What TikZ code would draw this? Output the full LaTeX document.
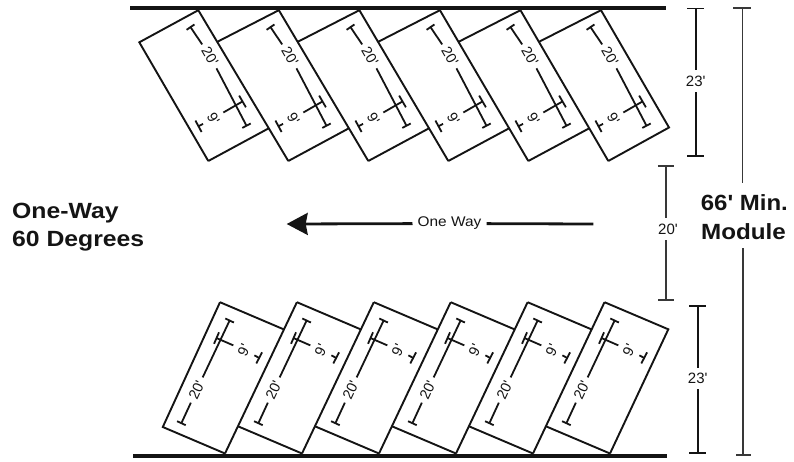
\documentclass[tikz,border=0pt]{standalone}
\usepackage{fontspec}
\setmainfont{Liberation Sans}[Ligatures=TeXOff]
\usetikzlibrary{arrows.meta,calc}
\definecolor{ink}{gray}{0.08}
\definecolor{inkb}{gray}{0.22}
\tikzset{
  stall/.style={draw=ink,line width=1.9pt,line join=miter},
  kerb/.style={draw=ink,line width=4pt},
  dimcap/.style={draw=ink,line width=1.8pt,arrows={Bar[width=#1,line width=1.8pt]-}},
  dimlab/.style={text=ink,font=\fontsize{14.5}{15}\selectfont,inner ysep=0pt,inner xsep=4.5pt,outer sep=0pt},
  shortlab/.style={text=ink,font=\fontsize{14.5}{15}\selectfont,inner ysep=6.5pt,inner xsep=1pt,outer sep=0pt},
  vlab/.style={text=ink,font=\fontsize{15}{16}\selectfont,inner ysep=5.5pt,inner xsep=1pt,outer sep=0pt},
  heading/.style={text=ink,font=\bfseries\fontsize{22}{24}\selectfont,anchor=base west,inner sep=0pt},
}
\begin{document}
\begin{tikzpicture}[x=1pt,y=-1pt]
\useasboundingbox (0,0) rectangle (794,461);
% kerbs
\coordinate (kt1) at (130,7.8); \coordinate (kt2) at (666,7.8);
\coordinate (kb1) at (133,455.5); \coordinate (kb2) at (667,455.5);
\draw[kerb] (kt1) -- (kt2);
\draw[kerb] (kb1) -- (kb2);
% corners
\foreach \i in {0,...,5} {
  \coordinate (T\i) at ({198.3+80.54*\i},10.2);
  \coordinate (B\i) at ({208.3+80*\i},161);
  \coordinate (D\i) at ({198.3+80*\i},10.7);
  \coordinate (P\i) at ({220+76.9*\i},302.2);
  \coordinate (S\i) at ({225+77*\i},453.5);
  \coordinate (E\i) at ({220+77*\i},302.3);
}
\coordinate (L0) at (139.3,42.3);
\coordinate (R5) at (669,127.5);
\coordinate (Q0) at (162.8,427);
\coordinate (U5) at (668.3,329.3);
\draw[stall] (T0) -- (L0) -- (B0);
\draw[stall] (T5) -- (R5) -- (B5);
\foreach \i/\n in {0/1,1/2,2/3,3/4,4/5} {
  \draw[stall] (T\i) -- (B\n);
  \draw[stall] (B\i) -- ($(T\i)!.783!(B\n)$);
  \draw[stall] ($(T\i)!.21!(B\n)$) -- (T\n);
}
\draw[stall] (P0) -- (Q0) -- (S0);
\draw[stall] (P5) -- (U5) -- (S5);
\foreach \i/\n in {0/1,1/2,2/3,3/4,4/5} {
  \draw[stall] (S\i) -- (P\n);
  \draw[stall] (P\i) -- ($(S\i)!.82!(P\n)$);
  \draw[stall] ($(S\i)!.18!(P\n)$) -- (S\n);
}
% stall dimensions, top
\foreach \i in {0,...,5} {
  \begin{scope}[shift={(D\i)}]
    \coordinate (ta\i) at (-8.3,15.7);
    \coordinate (tb\i) at (48.6,115.8);
    \coordinate (tc\i) at (45,90.3);
    \coordinate (td\i) at (-0.6,116);
    \node[dimlab,rotate=-60] (tl\i) at (11.7,45.3) {20'};
    \node[shortlab,rotate=-60] (ts\i) at (15,107.6) {9'};
    \draw[dimcap=9.5pt] (ta\i) -- (tl\i);
    \draw[dimcap=9.5pt] (tb\i) -- (tl\i);
    \draw[dimcap=13.5pt] (tc\i) -- (ts\i);
    \draw[dimcap=13pt] (td\i) -- (ts\i);
  \end{scope}
}
% stall dimensions, bottom
\foreach \i in {0,...,5} {
  \begin{scope}[shift={(E\i)}]
    \coordinate (ba\i) at (10,17.4);
    \coordinate (bb\i) at (-39,121.7);
    \coordinate (bc\i) at (-4.3,35.4);
    \coordinate (bd\i) at (40,56);
    \node[dimlab,rotate=65] (bl\i) at (-23.3,87.7) {20'};
    \node[shortlab,rotate=65] (bs\i) at (24,47.7) {9'};
    \draw[dimcap=9.5pt] (ba\i) -- (bl\i);
    \draw[dimcap=9.5pt] (bb\i) -- (bl\i);
    \draw[dimcap=12.5pt] (bc\i) -- (bs\i);
    \draw[dimcap=12.5pt] (bd\i) -- (bs\i);
  \end{scope}
}
% right-hand dimensions
\coordinate (r1a) at (695.7,7.5); \coordinate (r1b) at (695.7,156.7);
\node[vlab] (r1) at (695.7,81) {23'};
\draw[dimcap=16.5pt] (r1a) -- (r1);
\draw[dimcap=16.5pt] (r1b) -- (r1);
\coordinate (r2a) at (665.8,165); \coordinate (r2b) at (665.8,301);
\node[vlab] (r2) at (668,229) {20'};
\draw[dimcap=16pt,draw=inkb] (r2a) -- (r2a |- r2.north);
\draw[dimcap=16pt,draw=inkb] (r2b) -- (r2b |- r2.south);
\coordinate (r3a) at (697.7,305); \coordinate (r3b) at (697.7,454);
\node[vlab] (r3) at (697.7,378.5) {23'};
\draw[dimcap=16.5pt] (r3a) -- (r3);
\draw[dimcap=16.5pt] (r3b) -- (r3);
\coordinate (m1) at (742.3,7); \coordinate (m2) at (742.3,183);
\coordinate (m3) at (743,248); \coordinate (m4) at (743,455.5);
\draw[dimcap=18pt,draw=inkb,line width=1.5pt] (m1) -- (m2);
\draw[dimcap=15pt,draw=inkb,line width=1.5pt] (m4) -- (m3);
% headings
\node[heading] (h1) at (12,218.3) {\scalebox{1.125}[1]{One-Way}};
\node[heading] (h2) at (12,246.7) {\scalebox{1.125}[1]{60 Degrees}};
\node[heading] (h3) at (700.7,210) {\scalebox{1.09}[1]{66' Min.}};
\node[heading] (h4) at (701,239.3) {\scalebox{1.1}[1]{Module}};
% one way arrow
\coordinate (as) at (593.3,224);
\coordinate (at) at (286.7,224);
\node[text=ink,font=\fontsize{14}{15}\selectfont,inner xsep=5pt,inner ysep=2pt] (ow) at (449.5,223.5) {\scalebox{1.1}[1]{One Way}};
\draw[draw=ink,line width=2.8pt] (as) -- (ow);
\draw[draw=ink,line width=2.8pt,arrows={-{Stealth[length=21pt,width=22pt,inset=2pt]}}] (ow) -- (at);
\end{tikzpicture}
\end{document}
